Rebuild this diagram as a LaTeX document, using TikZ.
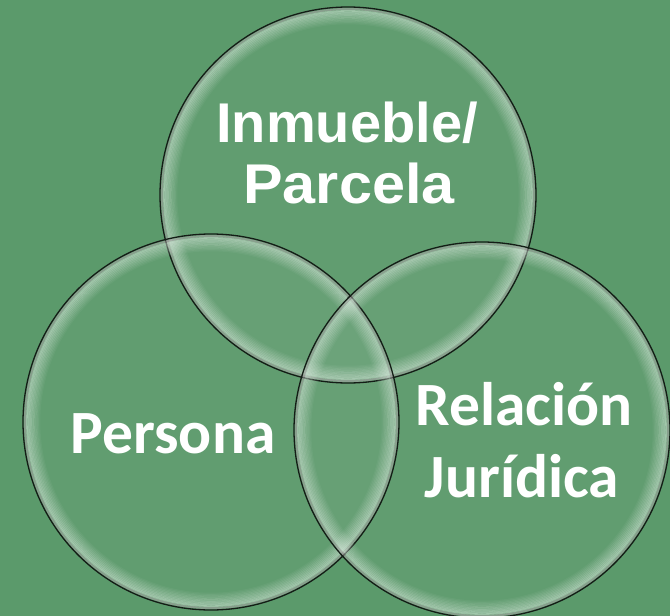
\documentclass[tikz,border=0pt]{standalone}
\usepackage{fontspec}
\usepackage{xcolor}
\newfontfamily\arialfont{Liberation Sans}
\newfontfamily\calibrifont{Carlito}
\definecolor{bggreen}{HTML}{5B9A6B}
\definecolor{rimdark}{HTML}{141C16}
\definecolor{rimgray}{HTML}{A89FA4}
\definecolor{glass}{HTML}{DCEAE0}
\tikzset{
  bubble/.style={circle, minimum size=376pt, inner sep=0pt, fill=white, fill opacity=0.04},
  rim/.style={circle, minimum size=376pt, inner sep=0pt, draw=rimdark, line width=1.3pt},
  ring/.style={draw=glass, line width=1.6pt},
  titlearial/.style={text=white, font=\arialfont\bfseries\fontsize{56}{60}\selectfont, anchor=base, inner sep=0pt},
  titlecalibri/.style={text=white, font=\calibrifont\bfseries\fontsize{61.5}{66}\selectfont, anchor=base, inner sep=0pt}
}
\begin{document}
\begin{tikzpicture}[x=1pt, y=-1pt]
  \fill[bggreen] (0,0) rectangle (670,616);
  \useasboundingbox (0,0) rectangle (670,616);

  \node (Inmueble) [bubble] at (348,195) {};
  \node (Persona) [bubble] at (211,422) {};
  \node (Relacion) [bubble] at (482,430) {};

  % glass rim inside each circle
  \foreach \c in {Inmueble, Persona, Relacion}{
    \draw[rimgray, line width=2pt, opacity=0.55] (\c.center) circle (186);
    \foreach \k [evaluate=\k as \op using 0.5-0.045*\k] in {1,...,10}
      \draw[ring, opacity=\op] (\c.center) circle (185.5-\k*1.4);
    \node[rim] at (\c.center) {};
  }

  \node (lblInmueble) [titlearial] at (347,142) {Inmueble/};
  \node (lblParcela) [titlearial] at (349,203) {\scalebox{1.06}[1]{Parcela}};
  \node (lblPersona) [titlecalibri] at (173,453) {Persona};
  \node (lblRelacion) [titlecalibri] at (524,425) {Relación};
  \node (lblJuridica) [titlecalibri] at (522,497) {Jurídica};
\end{tikzpicture}
\end{document}
